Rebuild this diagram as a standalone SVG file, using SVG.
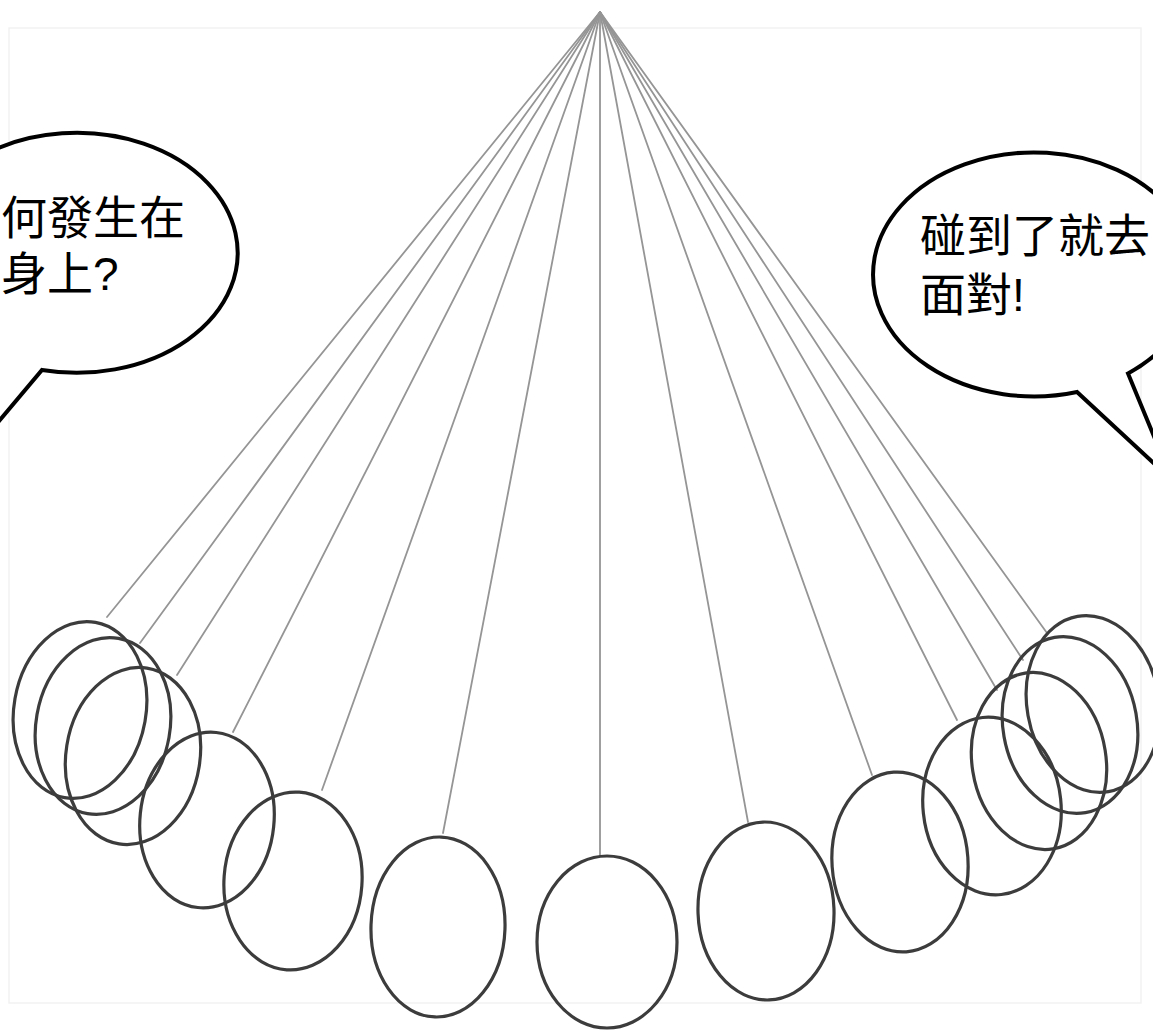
<svg xmlns="http://www.w3.org/2000/svg" width="1153" height="1030" viewBox="0 0 1153 1030">
<style>
.str{stroke:#959595;stroke-width:1.8;fill:none;stroke-linecap:round}
.bob{fill:none;stroke:#3c3c3c;stroke-width:3.2}
.bub{fill:#fff;stroke:#000;stroke-width:4;stroke-linejoin:miter}
.txt{font-family:"Liberation Sans","Noto Sans CJK TC",sans-serif;font-size:46px;fill:#000}
</style>
<rect width="1153" height="1030" fill="#fff"/>
<rect x="9" y="28" width="1132" height="975" fill="none" stroke="#f2f2f2" stroke-width="1.5"/>
<g id="strings">
<line class="str" x1="600" y1="12" x2="107" y2="617"/>
<line class="str" x1="600" y1="12" x2="140" y2="643"/>
<line class="str" x1="600" y1="12" x2="177" y2="675"/>
<line class="str" x1="600" y1="12" x2="233" y2="732"/>
<line class="str" x1="600" y1="12" x2="322" y2="790"/>
<line class="str" x1="600" y1="12" x2="443" y2="833"/>
<line class="str" x1="600" y1="12" x2="600" y2="856"/>
<line class="str" x1="600" y1="12" x2="748" y2="822"/>
<line class="str" x1="600" y1="12" x2="872" y2="775"/>
<line class="str" x1="600" y1="12" x2="957" y2="720"/>
<line class="str" x1="600" y1="12" x2="997" y2="690"/>
<line class="str" x1="600" y1="12" x2="1023" y2="660"/>
<line class="str" x1="600" y1="12" x2="1047" y2="633"/>
</g>
<g id="bob-a"><ellipse class="bob" cx="80" cy="710" rx="66" ry="89" transform="rotate(10 80 710)"/></g>
<g id="bob-b"><ellipse class="bob" cx="103" cy="726" rx="67" ry="89" transform="rotate(10 103 726)"/></g>
<g id="bob-c"><ellipse class="bob" cx="133" cy="756" rx="67" ry="89" transform="rotate(9 133 756)"/></g>
<g id="bob-d"><ellipse class="bob" cx="207" cy="820" rx="67" ry="88" transform="rotate(6 207 820)"/></g>
<g id="bob-e"><ellipse class="bob" cx="293" cy="881" rx="69" ry="89" transform="rotate(4 293 881)"/></g>
<g id="bob-f"><ellipse class="bob" cx="438" cy="927" rx="67" ry="90" transform="rotate(2 438 927)"/></g>
<g id="bob-g"><ellipse class="bob" cx="607" cy="942" rx="70" ry="86"/></g>
<g id="bob-h"><ellipse class="bob" cx="766" cy="911" rx="68" ry="89" transform="rotate(-2 766 911)"/></g>
<g id="bob-i"><ellipse class="bob" cx="900" cy="862" rx="68" ry="90" transform="rotate(-4 900 862)"/></g>
<g id="bob-j"><ellipse class="bob" cx="992" cy="806" rx="69" ry="89" transform="rotate(-6 992 806)"/></g>
<g id="bob-k"><ellipse class="bob" cx="1039" cy="761" rx="67" ry="89" transform="rotate(-9 1039 761)"/></g>
<g id="bob-l"><ellipse class="bob" cx="1070" cy="725" rx="67" ry="89" transform="rotate(-10 1070 725)"/></g>
<g id="bob-m"><ellipse class="bob" cx="1093" cy="704" rx="66" ry="89" transform="rotate(-10 1093 704)"/></g>
<g id="bubble-left">
<path class="bub" d="M42,370 A161 120 0 1 0 -19.6,349 L-70,503 Z"/>
<text class="txt" x="1" y="234">何發生在</text>
<text class="txt" x="1" y="290">身上?</text>
</g>
<g id="bubble-right">
<path class="bub" d="M1077,392 A161 122 0 1 1 1128,373.5 L1172,480 Z"/>
<text class="txt" x="920" y="252">碰到了就去</text>
<text class="txt" x="920" y="311">面對!</text>
</g>
</svg>
